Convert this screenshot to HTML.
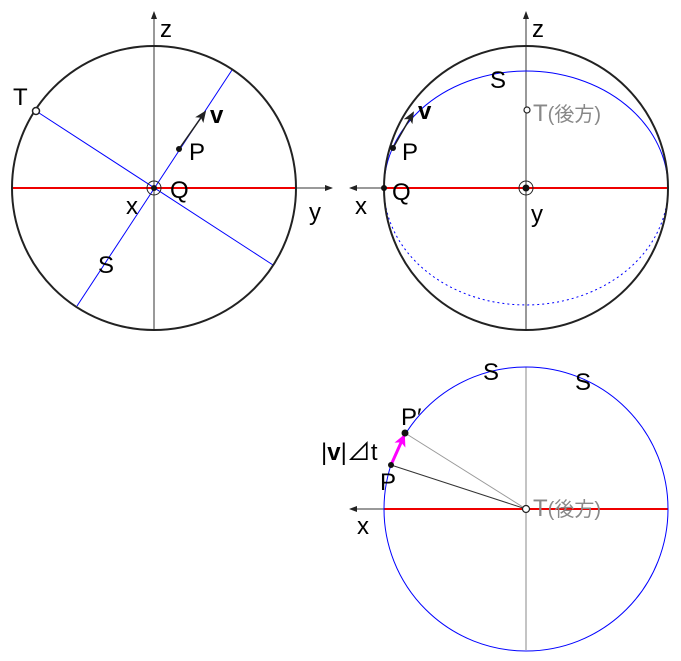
<!DOCTYPE html>
<html><head><meta charset="utf-8"><style>body{margin:0;background:#fff}svg{display:block}
text{font-family:"Liberation Sans","Noto Sans CJK JP",sans-serif;font-size:24px}</style></head>
<body>
<svg width="681" height="661" viewBox="0 0 681 661" xmlns="http://www.w3.org/2000/svg">
<defs><marker id="a" markerWidth="8" markerHeight="8" refX="7" refY="4" orient="auto" markerUnits="userSpaceOnUse"><path d="M0,1 L8,4 L0,7 z" fill="#222"/></marker>
<marker id="b" markerWidth="12" markerHeight="12" refX="10" refY="6" orient="auto" markerUnits="userSpaceOnUse"><path d="M0,1 L12,6 L0,11 L3,6 z" fill="#222"/></marker>
<marker id="m" markerWidth="12" markerHeight="12" refX="10" refY="6" orient="auto" markerUnits="userSpaceOnUse"><path d="M0,0 L12,6 L0,12 L3,6 z" fill="#f0f"/></marker></defs>
<!-- Diagram 1 -->
<line x1="154" y1="330" x2="154" y2="12" stroke="#333" stroke-width="1" marker-end="url(#a)"/>
<line x1="12" y1="188" x2="332" y2="188" stroke="#333" stroke-width="1" marker-end="url(#a)"/>
<line x1="12" y1="188" x2="296" y2="188" stroke="#e00" stroke-width="2"/>
<line x1="77" y1="306" x2="232" y2="70" stroke="#00f" stroke-width="1"/>
<line x1="36" y1="111" x2="273" y2="265" stroke="#00f" stroke-width="1"/>
<circle cx="154" cy="188" r="142" fill="none" stroke="#222" stroke-width="2"/>
<circle cx="36" cy="111" r="3.5" fill="#fff" stroke="#222" stroke-width="1.5"/>
<circle cx="154" cy="188" r="7" fill="none" stroke="#222" stroke-width="1"/>
<circle cx="154" cy="188" r="3" fill="#111"/>
<line x1="179" y1="149" x2="205" y2="112" stroke="#222" stroke-width="1.5" marker-end="url(#b)"/>
<circle cx="179" cy="149" r="3" fill="#111"/>
<text x="160" y="37">z</text><text x="13" y="105">T</text>
<text x="210" y="123" font-weight="bold">v</text><text x="189" y="160">P</text>
<text x="170" y="198">Q</text><text x="126" y="214">x</text><text x="309" y="220">y</text><text x="98" y="273">S</text>
<!-- Diagram 2 -->
<line x1="526" y1="330" x2="526" y2="12" stroke="#333" stroke-width="1" marker-end="url(#a)"/>
<line x1="384" y1="188" x2="350" y2="188" stroke="#333" stroke-width="1" marker-end="url(#a)"/>
<line x1="384" y1="188" x2="668" y2="188" stroke="#e00" stroke-width="2"/>
<path d="M384,188 A142,117 0 0 1 668,188" fill="none" stroke="#00f" stroke-width="1"/>
<path d="M384,188 A142,117 0 0 0 668,188" fill="none" stroke="#00f" stroke-width="1" stroke-dasharray="2,3"/>
<circle cx="526" cy="188" r="142" fill="none" stroke="#222" stroke-width="2"/>
<circle cx="527" cy="110" r="3" fill="#fff" stroke="#222" stroke-width="1.2"/>
<circle cx="526" cy="188" r="7" fill="none" stroke="#222" stroke-width="1"/>
<circle cx="526" cy="188" r="3.5" fill="#111"/>
<circle cx="384" cy="188" r="3" fill="#111"/>
<line x1="393" y1="148" x2="413" y2="113" stroke="#222" stroke-width="1.5" marker-end="url(#b)"/>
<circle cx="393" cy="148" r="3" fill="#111"/>
<text x="532" y="37">z</text><text x="490" y="88">S</text>
<text x="533" y="121" fill="#888">T<tspan font-size="20">(後方)</tspan></text>
<text x="418" y="119" font-weight="bold">v</text><text x="402" y="160">P</text>
<text x="392" y="200">Q</text><text x="355" y="214">x</text><text x="531" y="222">y</text>
<!-- Diagram 3 -->
<line x1="526" y1="367" x2="526" y2="650" stroke="#888" stroke-width="1"/>
<line x1="384" y1="509" x2="350" y2="509" stroke="#333" stroke-width="1" marker-end="url(#a)"/>
<line x1="384" y1="509" x2="668" y2="509" stroke="#e00" stroke-width="2"/>
<circle cx="526" cy="509" r="142" fill="none" stroke="#00f" stroke-width="1"/>
<line x1="391" y1="465" x2="526" y2="509" stroke="#333" stroke-width="1"/>
<line x1="405" y1="433" x2="526" y2="509" stroke="#999" stroke-width="1"/>
<line x1="391" y1="465" x2="404" y2="436" stroke="#f0f" stroke-width="3" marker-end="url(#m)"/>
<circle cx="391" cy="465" r="3" fill="#111"/>
<circle cx="405" cy="433" r="3.5" fill="#111"/>
<circle cx="526" cy="509" r="3.5" fill="#fff" stroke="#222" stroke-width="1.2"/>
<text x="483" y="380">S</text><text x="575" y="390">S</text>
<text x="401" y="425">P′</text>
<text x="321" y="460"><tspan>|</tspan><tspan font-weight="bold">v</tspan><tspan>|⊿t</tspan></text>
<text x="380" y="490">P</text><text x="357" y="534">x</text>
<text x="533" y="516" fill="#888">T<tspan font-size="20">(後方)</tspan></text>
</svg>
</body></html>
